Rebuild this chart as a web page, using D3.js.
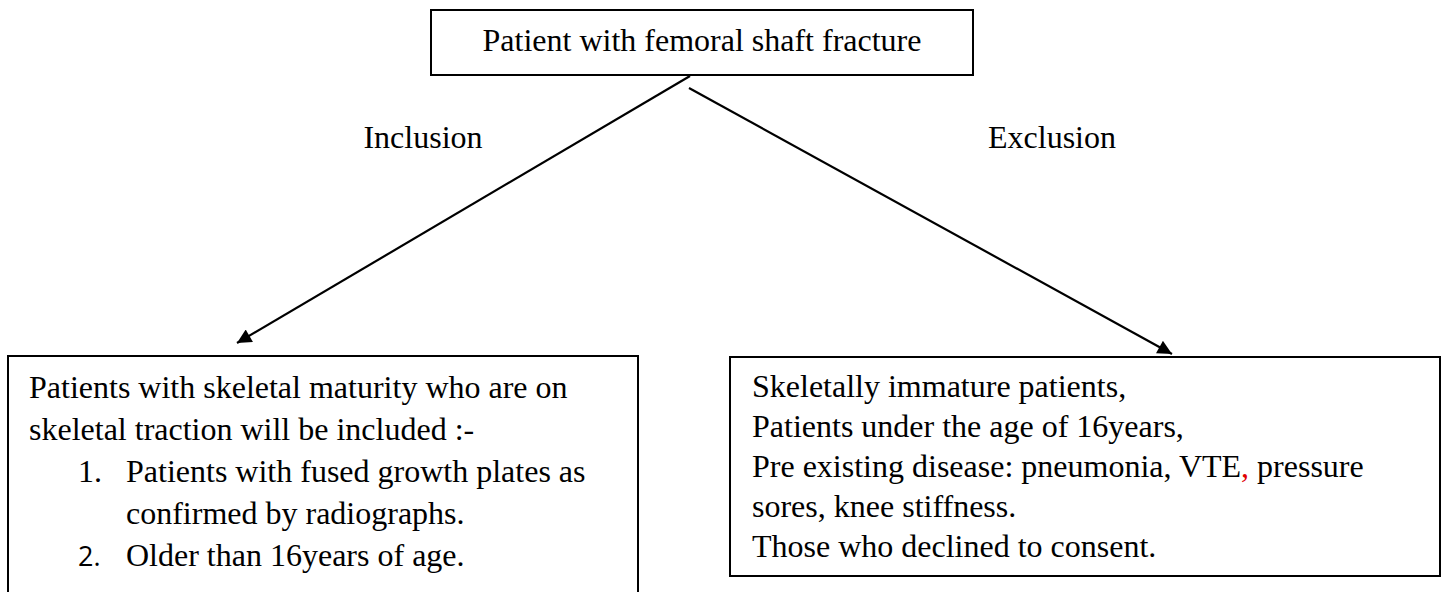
<!DOCTYPE html>
<html>
<head>
<meta charset="utf-8">
<script src="https://cdn.jsdelivr.net/npm/d3@7"></script>
<style>
  body { margin: 0; background: #fff; }
  svg { display: block; }
  text { font-family: "Liberation Serif", "Times New Roman", serif; fill: #000; }
</style>
</head>
<body>
<div class="flow-container"></div>
<script>
// . . . flowchart content

const rootLabel = 'Patient with femoral shaft fracture';
const branchLabels = ['Inclusion', 'Exclusion'];

// marker = list number (empty for plain lines / continuation lines)
const inclusionMarkers = ['', '', '1.', '', '2.'];
const inclusionLines = [
  'Patients with skeletal maturity who are on',
  'skeletal traction will be included :-',
  'Patients with fused growth plates as',
  'confirmed by radiographs.',
  'Older than 16years of age.'
];
const inclusionIndented = [false, false, true, true, true];

// the comma after VTE is red in the source
const exclusionLines = [
  'Skeletally immature patients,',
  'Patients under the age of 16years,',
  ['Pre existing disease: pneumonia, VTE', ',', ' pressure'],
  'sores, knee stiffness.',
  'Those who declined to consent.'
];

// . . . layout

const width = 1442;
const height = 592;
const fontSize = 32;

const svg = d3.select('.flow-container')
  .append('svg')
  .attr('width', width)
  .attr('height', height);

const topBox = { x: 431, y: 10, w: 542, h: 65 };
const leftBox = { x: 8, y: 356, w: 630, h: 250 };
const rightBox = { x: 730, y: 357, w: 710, h: 219 };

// arrowhead
svg.append('defs').append('marker')
  .attr('id', 'arrow')
  .attr('viewBox', '0 0 10 10')
  .attr('refX', 10)
  .attr('refY', 5)
  .attr('markerWidth', 7.5)
  .attr('markerHeight', 6.5)
  .attr('markerUnits', 'strokeWidth')
  .attr('orient', 'auto')
  .append('path')
  .attr('d', 'M0,0 L10,5 L0,10 z')
  .attr('fill', '#000');

// boxes
[topBox, leftBox, rightBox].forEach(b => {
  svg.append('rect')
    .attr('x', b.x)
    .attr('y', b.y)
    .attr('width', b.w)
    .attr('height', b.h)
    .attr('fill', '#fff')
    .attr('stroke', '#000')
    .attr('stroke-width', 2);
});

svg.append('text')
  .attr('x', topBox.x + topBox.w / 2)
  .attr('y', topBox.y + 41)
  .attr('text-anchor', 'middle')
  .style('font-size', fontSize + 'px')
  .text(rootLabel);

// connectors
const connectors = [
  { x1: 690, y1: 76, x2: 237, y2: 343 },
  { x1: 689, y1: 88, x2: 1172, y2: 354 }
];

svg.selectAll('.connector')
  .data(connectors)
  .enter()
  .append('line')
  .attr('class', 'connector')
  .attr('x1', d => d.x1)
  .attr('y1', d => d.y1)
  .attr('x2', d => d.x2)
  .attr('y2', d => d.y2)
  .attr('stroke', '#000')
  .attr('stroke-width', 2.2)
  .attr('marker-end', 'url(#arrow)');

// branch labels
const labelX = [423, 1052];
svg.selectAll('.branch-label')
  .data(branchLabels)
  .enter()
  .append('text')
  .attr('class', 'branch-label')
  .attr('x', (d, i) => labelX[i])
  .attr('y', 148)
  .attr('text-anchor', 'middle')
  .style('font-size', fontSize + 'px')
  .text(d => d);

// inclusion box text
const incl = svg.append('g');
inclusionLines.forEach((line, i) => {
  const y = leftBox.y + 42 + i * 42;
  const marker = inclusionMarkers[i];
  if (marker) {
    incl.append('text')
      .attr('x', leftBox.x + 70)
      .attr('y', y)
      .style('font-size', marker === '2.' ? '27px' : fontSize + 'px')
      .style('font-family', marker === '2.' ? '"Open Sans", sans-serif' : null)
      .text(marker);
  }
  incl.append('text')
    .attr('x', inclusionIndented[i] ? leftBox.x + 118 : leftBox.x + 21)
    .attr('y', y)
    .style('font-size', fontSize + 'px')
    .text(line);
});

// exclusion box text
const excl = svg.append('g');
exclusionLines.forEach((line, i) => {
  const t = excl.append('text')
    .attr('x', rightBox.x + 22)
    .attr('y', rightBox.y + 40 + i * 40)
    .style('font-size', fontSize + 'px');
  if (Array.isArray(line)) {
    line.forEach((part, j) => {
      t.append('tspan')
        .attr('fill', j === 1 ? '#e00000' : '#000')
        .text(part);
    });
  } else {
    t.text(line);
  }
});
</script>
</body>
</html>
